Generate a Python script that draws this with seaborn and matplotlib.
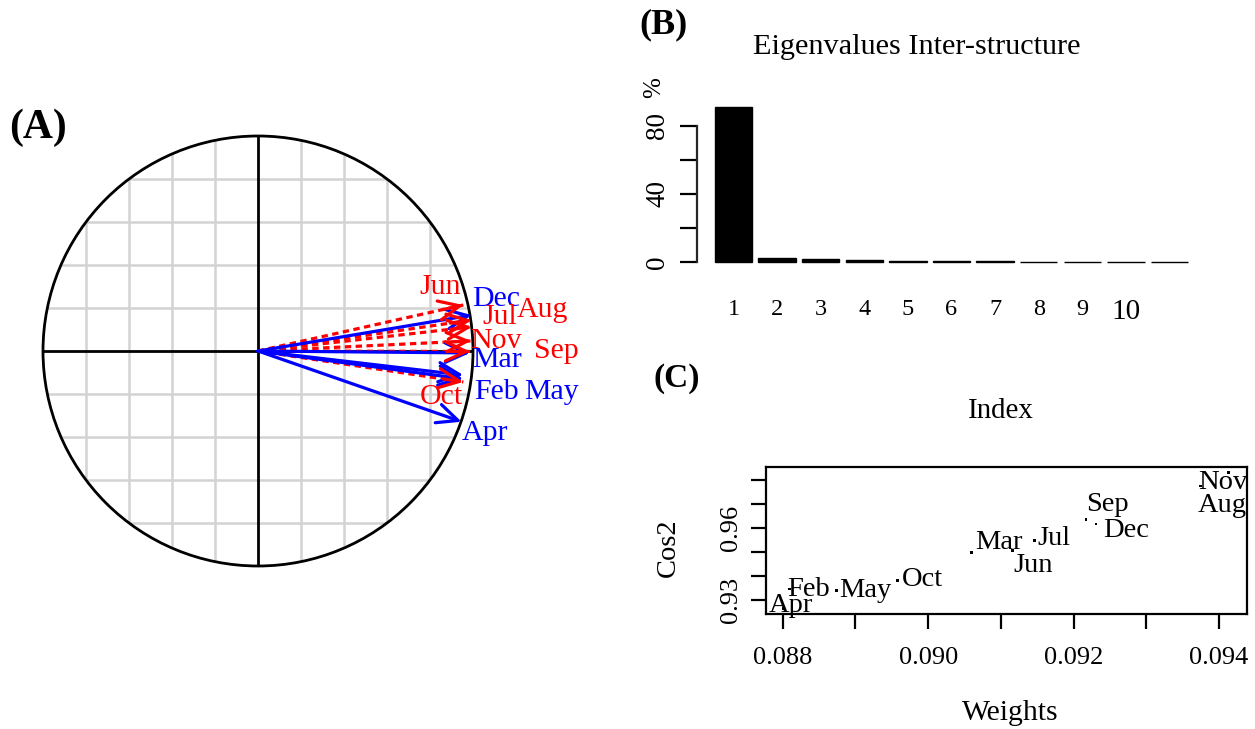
import numpy as np
import pandas as pd
import matplotlib
matplotlib.use("Agg")
import matplotlib.pyplot as plt
import seaborn as sns

sns.set_style("white")
plt.rcParams['font.family'] = ['Liberation Serif', 'DejaVu Serif']
plt.rcParams['text.color'] = 'black'
plt.rcParams['axes.labelcolor'] = 'black'
plt.rcParams['xtick.color'] = 'black'
plt.rcParams['ytick.color'] = 'black'

# ---------------- data ----------------
# Panel A: correlation circle (arrow tips, unit circle coordinates)
months_a = ["Jun", "Dec", "Jul", "Aug", "Nov", "Sep", "Mar", "Feb", "May", "Oct", "Apr"]
corr_x = [0.955, 0.994, 0.994, 0.994, 0.991, 0.986, 0.986, 0.955, 0.955, 0.955, 0.947]
corr_y = [0.214, 0.167, 0.144, 0.112, 0.047, -0.002, -0.009, -0.112, -0.130, -0.144, -0.329]
group_a = ["G2", "G1", "G2", "G2", "G2", "G2", "G1", "G1", "G1", "G2", "G1"]

# Panel B: eigenvalues of the inter-structure (%)
eig_index = list(range(1, 12))
eig_pct = [90.8, 2.4, 1.9, 1.4, 1.0, 0.8, 0.6, 0.45, 0.3, 0.25, 0.1]

# Panel C: weights vs cos2
months_c = ["Apr", "Feb", "May", "Oct", "Mar", "Jun", "Jul", "Sep", "Dec", "Nov", "Aug"]
weights = [0.08801, 0.08809, 0.08874, 0.08958, 0.09060, 0.09116, 0.09146, 0.09217, 0.09231, 0.09413, 0.09375]
cos2 = [0.92655, 0.93470, 0.93399, 0.93815, 0.94995, 0.95078, 0.95477, 0.96367, 0.96171, 0.98303, 0.9775]

# ---------------- style / layout ----------------
W, H = 1255, 729
colors = {"G1": "#0000FF", "G2": "#FF0000"}
PX = 0.72  # points per pixel at dpi 100

# label offsets (pixels: dx right, dy down) relative to arrow tip
lab_off_a = {"Jun": (-23, -18), "Dec": (24, -16), "Jul": (28, -3), "Aug": (71, -17),
             "Nov": (25, 0), "Sep": (86, 0), "Mar": (27, 7), "Feb": (33, 17),
             "May": (88, 13), "Oct": (-22, 15), "Apr": (23, 11)}
# label offsets relative to point for panel C (left aligned)
lab_off_c = {"Apr": (-15, -3), "Feb": (-2, 0), "May": (3, 0), "Oct": (4, -1),
             "Mar": (3, -10), "Jun": (1, 15), "Jul": (3, -2), "Sep": (0, -15),
             "Dec": (7, 6), "Nov": (-30, 10), "Aug": (-3, 19)}

fig = plt.figure(figsize=(W / 100, H / 100), dpi=100)

def fx(px):
    return px / W

def fy(py):
    return 1 - py / H

# ---------------- Panel A ----------------
axA = fig.add_axes([fx(43), fy(566), 430 / W, 430 / H])
axA.set_xlim(-1, 1)
axA.set_ylim(-1, 1)
axA.set_aspect("equal")
for s in axA.spines.values():
    s.set_visible(False)
grid_vals = [-0.8, -0.6, -0.4, -0.2, 0.2, 0.4, 0.6, 0.8]
axA.set_xticks(grid_vals)
axA.set_yticks(grid_vals)
axA.tick_params(length=0, labelbottom=False, labelleft=False)
axA.grid(True, color="#d3d3d3", lw=1.8)
circle = plt.Circle((0, 0), 1, fill=False, color="black", lw=2.0, clip_on=False, zorder=3)
axA.add_patch(circle)
clip_circ = plt.Circle((0, 0), 1, transform=axA.transData)
for gl in axA.get_xgridlines() + axA.get_ygridlines():
    gl.set_clip_path(clip_circ)
axA.axhline(0, color="black", lw=2.0, zorder=2)
axA.axvline(0, color="black", lw=2.0, zorder=2)

head = "->,head_length=0.65,head_width=0.3"
dfA = pd.DataFrame({"month": months_a, "x": corr_x, "y": corr_y, "group": group_a})
for _, r in dfA.iterrows():
    col = colors[r.group]
    if r.group == "G1":
        axA.annotate("", xy=(r.x, r.y), xytext=(0, 0),
                     arrowprops=dict(arrowstyle=head, color=col, lw=2.3,
                                     shrinkA=0, shrinkB=0, mutation_scale=23), zorder=5)
    else:
        axA.plot([0, r.x], [0, r.y], color=col, lw=2.3, ls=(0, (2, 1.4)), zorder=4)
        axA.annotate("", xy=(r.x, r.y), xytext=(r.x * 0.9, r.y * 0.9),
                     arrowprops=dict(arrowstyle=head, color=col, lw=2.3,
                                     shrinkA=0, shrinkB=0, mutation_scale=23), zorder=6)
    dx, dy = lab_off_a[r.month]
    axA.annotate(r.month, xy=(r.x, r.y), xytext=(dx * PX, -dy * PX),
                 textcoords="offset points", ha="center", va="center",
                 color=col, fontsize=21.5, annotation_clip=False, zorder=7)

fig.text(fx(38), fy(128), "(A)", fontsize=30, fontweight="bold", ha="center", va="center")

# ---------------- Panel B ----------------
bar_px = 43.6
axB = fig.add_axes([fx(696.7), fy(268), (1200 - 696.7) / W, (268 - 95) / H])
dfB = pd.DataFrame({"idx": [str(i) for i in eig_index], "pct": eig_pct})
sns.barplot(data=dfB, x="idx", y="pct", color="black", edgecolor="black",
            linewidth=1, width=0.86, ax=axB, saturation=1)
axB.set_xlim(-(733.5 - 696.7) / bar_px, (1200 - 733.5) / bar_px)
u = (262.3 - 125.7) / 80
axB.set_ylim(-(268 - 262.3) / u, (262.3 - 95) / u)
for k in ["top", "right", "bottom"]:
    axB.spines[k].set_visible(False)
axB.spines["left"].set_bounds(0, 80)
axB.spines["left"].set_linewidth(1.6)
axB.set_yticks([0, 20, 40, 60, 80])
axB.set_yticklabels(["0", "", "40", "", "80"], rotation=90, va="center")
axB.tick_params(axis="y", length=12, width=1.6, pad=7, labelsize=19.5, direction="out", left=True)
axB.set_xticks(range(10))
axB.set_xticklabels([str(i) for i in eig_index[:10]])
axB.tick_params(axis="x", length=0, pad=22, labelsize=17.5)
axB.get_xticklabels()[-1].set_fontsize(21)
axB.set_xlabel("")
axB.set_ylabel("")
fig.text(fx(917), fy(47), "Eigenvalues Inter-structure", fontsize=21.8, ha="center", va="center")
fig.text(fx(654), fy(88), "%", fontsize=18, rotation=90, ha="center", va="center")
fig.text(fx(1001), fy(411), "Index", fontsize=20.8, ha="center", va="center")
fig.text(fx(664), fy(25), "(B)", fontsize=26, fontweight="bold", ha="center", va="center")

# ---------------- Panel C ----------------
axC = fig.add_axes([fx(765.7), fy(614), (1246.7 - 765.7) / W, (614 - 467.3) / H])
dfC = pd.DataFrame({"month": months_c, "w": weights, "c": cos2})
sns.scatterplot(data=dfC, x="w", y="c", marker="s", s=4, color="black",
                edgecolor="none", ax=axC)
axC.set_xlim(0.087766, 0.094381)
axC.set_ylim(0.92431, 0.98528)
for s in axC.spines.values():
    s.set_linewidth(1.6)
    s.set_color("black")
axC.set_xticks([0.088, 0.089, 0.090, 0.091, 0.092, 0.093, 0.094])
axC.set_xticklabels(["0.088", "", "0.090", "", "0.092", "", "0.094"])
axC.set_yticks([0.93, 0.94, 0.95, 0.96, 0.97, 0.98])
axC.set_yticklabels(["0.93", "", "", "0.96", "", ""], rotation=90, va="center")
axC.tick_params(axis="both", length=11, width=1.6, labelsize=19, direction="out",
                bottom=True, left=True)
axC.tick_params(axis="x", pad=13)
axC.tick_params(axis="y", pad=6)
axC.set_xlabel("")
axC.set_ylabel("")
for _, r in dfC.iterrows():
    dx, dy = lab_off_c[r.month]
    axC.annotate(r.month, xy=(r.w, r.c), xytext=(dx * PX, -dy * PX),
                 textcoords="offset points", ha="left", va="center",
                 fontsize=20.5, color="black", annotation_clip=False)
fig.text(fx(1010), fy(713), "Weights", fontsize=21.3, ha="center", va="center")
fig.text(fx(668), fy(548), "Cos2", fontsize=20.5, rotation=90, ha="center", va="center")
fig.text(fx(677), fy(378), "(C)", fontsize=24, fontweight="bold", ha="center", va="center")

fig.savefig("out.png", dpi=100, facecolor="white")
